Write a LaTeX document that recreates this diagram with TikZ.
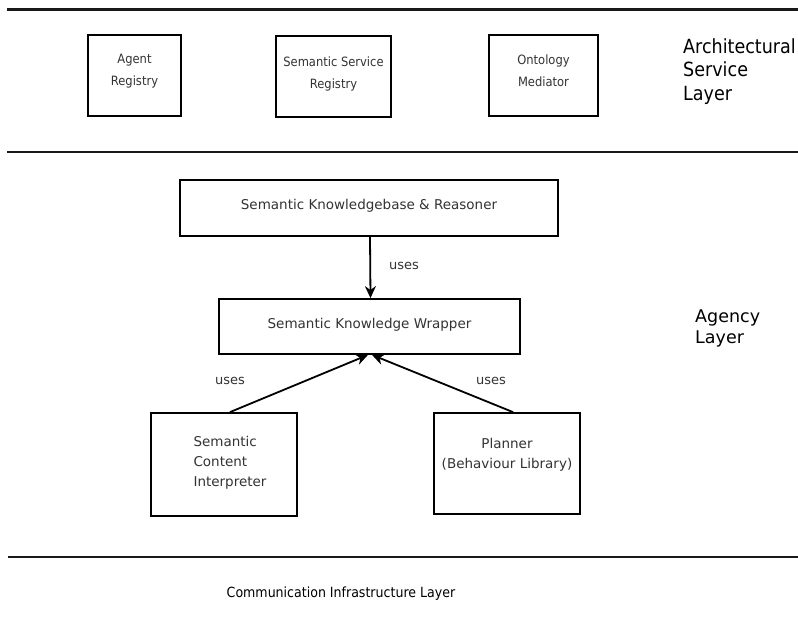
\documentclass[tikz,border=0pt]{standalone}
\usepackage{fontspec}
\setmainfont{DejaVu Sans}
\newfontfamily\condfont{DejaVu Sans Condensed}
\usetikzlibrary{arrows.meta,calc}
\begin{document}
\begin{tikzpicture}[x=1pt,y=-1pt,
  layerline/.style={line width=2.4pt, black!90},
  box/.style={draw, line width=1.8pt, inner sep=0pt},
  toptxt/.style={font=\condfont\fontsize{12.8}{22}\selectfont, text=black!80, align=center, inner sep=0pt},
  midtxt/.style={font=\fontsize{13.5}{20}\selectfont, text=black!80, align=center, inner sep=0pt},
  lbl/.style={font=\fontsize{13}{16}\selectfont, text=black!80, inner sep=0pt},
  uses/.style={line width=1.8pt, -{Stealth[length=12pt,width=11pt]}},
  archtxt/.style={font=\condfont\fontsize{19.5}{23.5}\selectfont, align=left, inner sep=0pt, anchor=west},
  agtxt/.style={font=\fontsize{17.5}{21}\selectfont, align=left, inner sep=0pt, anchor=west},
  comtxt/.style={font=\condfont\fontsize{14}{17}\selectfont, inner sep=0pt}]
\useasboundingbox (0,0) rectangle (798,635);
\fill[white] (0,0) rectangle (798,635);
% layer separators
\coordinate (l1a) at (7,9.5);  \coordinate (l1b) at (798,9.5);
\coordinate (l2a) at (7,152);  \coordinate (l2b) at (798,152);
\coordinate (l3a) at (8,557);  \coordinate (l3b) at (798,557);
\draw[layerline] (l1a) -- (l1b);
\draw[layerline] (l2a) -- (l2b);
\draw[layerline] (l3a) -- (l3b);
% architectural service layer
\node[box, minimum width=93pt, minimum height=81pt] (agent) at (134.5,75.5) {};
\node[box, minimum width=115pt, minimum height=81pt] (ssr) at (333.5,76.5) {};
\node[box, minimum width=109pt, minimum height=81pt] (onto) at (543.5,75.5) {};
\node[toptxt] (agentt) at (134.5,71.5) {Agent\\Registry};
\node[toptxt] (ssrt) at (333.5,74) {Semantic Service\\Registry};
\node[toptxt] (ontot) at (543.5,71) {Ontology\\Mediator};
\node[archtxt] (arch) at (683,71.5) {Architectural\\Service\\Layer};
% agency layer
\node[box, minimum width=378pt, minimum height=56pt] (kb) at (369,208) {};
\node[midtxt] (kbt) at (369,206) {Semantic Knowledgebase \& Reasoner};
\node[box, minimum width=301pt, minimum height=55pt] (wrap) at (369.5,326.5) {};
\node[midtxt] (wrapt) at (369.5,324.5) {Semantic Knowledge Wrapper};
\node[box, minimum width=146pt, minimum height=103pt] (sci) at (224,464.5) {};
\node[midtxt, align=left] (scit) at (230,463) {Semantic\\Content\\Interpreter};
\node[box, minimum width=146pt, minimum height=101pt] (plan) at (507,463.5) {};
\node[midtxt] (plant) at (507,455) {Planner\\(Behaviour Library)};
\node[agtxt] (agency) at (695,328.5) {Agency\\Layer};
% connectors
\draw[uses] ([xshift=1pt]kb.south) -- ([xshift=1pt]wrap.north);
\draw[uses] ([xshift=6pt]sci.north) -- ([xshift=-1.5pt]wrap.south);
\draw[uses] ([xshift=6pt]plan.north) -- ([xshift=2.5pt]wrap.south);
\node[lbl] (u1) at (404,266) {uses};
\node[lbl] (u2) at (230,381) {uses};
\node[lbl] (u3) at (491,381) {uses};
% communication layer
\node[comtxt] (comm) at (341,594) {Communication Infrastructure Layer};
\end{tikzpicture}
\end{document}
